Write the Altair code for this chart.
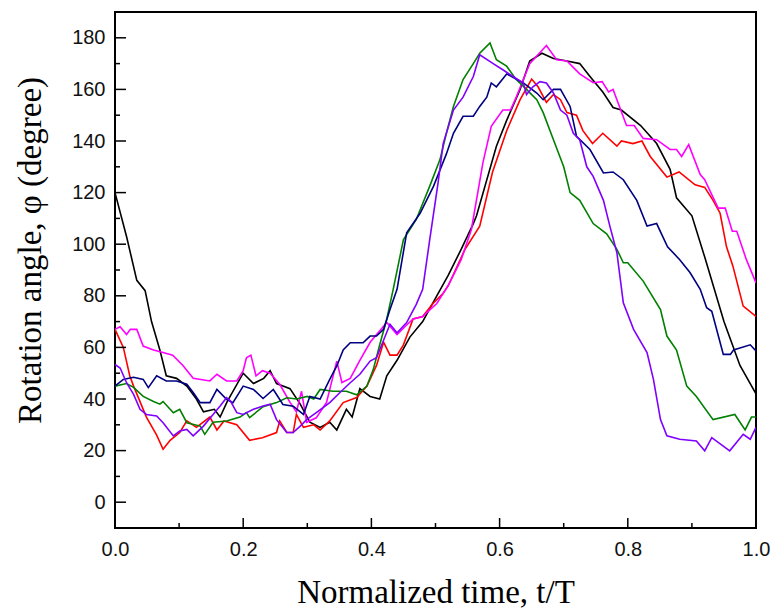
import altair as alt
import pandas as pd

series_names = ["black", "red", "magenta", "green", "navy", "purple"]
series_colors = ["#000000", "#ff0000", "#ff00ff", "#008000", "#000080", "#8000ff"]

t_black = [0, 0.018, 0.034, 0.047, 0.057, 0.07, 0.08, 0.096, 0.112, 0.127, 0.138, 0.155, 0.164, 0.175, 0.2, 0.216, 0.232, 0.242, 0.252, 0.273, 0.289, 0.304, 0.32, 0.335, 0.346, 0.361, 0.37, 0.382, 0.398, 0.413, 0.424, 0.44, 0.46, 0.48, 0.502, 0.52, 0.54, 0.559, 0.564, 0.595, 0.611, 0.632, 0.647, 0.666, 0.684, 0.705, 0.725, 0.741, 0.761, 0.777, 0.79, 0.82, 0.845, 0.866, 0.876, 0.90, 0.92, 0.95, 0.975, 1.0]
v_black = [120, 103, 86, 82, 70, 59, 49, 48, 45, 40, 35, 36, 33, 39, 50, 46, 48, 51, 46, 44, 38, 31, 29, 31, 28, 36, 33, 44, 41, 40, 49, 55, 64, 70, 80, 88, 98, 108, 111, 138, 148, 160, 171, 174, 172, 171, 170, 165, 159, 153, 152, 146, 139, 129, 118, 111, 95, 70, 53, 42]

t_red = [0, 0.013, 0.023, 0.029, 0.049, 0.065, 0.075, 0.086, 0.101, 0.112, 0.127, 0.148, 0.159, 0.17, 0.19, 0.21, 0.23, 0.252, 0.257, 0.268, 0.278, 0.283, 0.294, 0.31, 0.32, 0.335, 0.356, 0.377, 0.393, 0.408, 0.419, 0.429, 0.44, 0.45, 0.465, 0.48, 0.496, 0.512, 0.52, 0.546, 0.569, 0.589, 0.611, 0.632, 0.65, 0.66, 0.673, 0.684, 0.695, 0.705, 0.72, 0.73, 0.745, 0.761, 0.783, 0.79, 0.808, 0.822, 0.835, 0.861, 0.88, 0.905, 0.92, 0.933, 0.944, 0.954, 0.964, 0.98, 0.985, 1.0]
v_red = [67, 60, 49, 45, 33, 26, 20.5, 24, 27, 31.5, 29, 33, 28, 31.5, 30, 24, 25, 27, 31.5, 27, 27, 34, 29, 30, 28, 31.5, 38.6, 40.6, 45, 53, 62, 57, 57, 61, 71, 72, 77, 81, 84, 98, 107, 128, 144, 156, 164, 161, 155, 158, 156, 151, 150, 144, 139, 143, 138, 140, 139, 140, 134, 126, 128, 123, 122, 117, 112, 99, 91.5, 76, 75, 72]

t_magenta = [0, 0.008, 0.018, 0.024, 0.034, 0.044, 0.06, 0.075, 0.09, 0.106, 0.122, 0.148, 0.159, 0.174, 0.19, 0.2, 0.205, 0.212, 0.22, 0.23, 0.242, 0.257, 0.273, 0.283, 0.291, 0.299, 0.314, 0.33, 0.346, 0.354, 0.367, 0.382, 0.398, 0.424, 0.44, 0.455, 0.465, 0.48, 0.502, 0.52, 0.54, 0.556, 0.574, 0.587, 0.605, 0.617, 0.626, 0.647, 0.673, 0.689, 0.705, 0.725, 0.746, 0.76, 0.77, 0.777, 0.798, 0.81, 0.824, 0.845, 0.866, 0.876, 0.884, 0.895, 0.913, 0.92, 0.941, 0.952, 0.963, 0.97, 0.985, 1.0]
v_magenta = [67, 68, 65, 67, 67, 60.5, 59, 58, 57, 53, 48, 47, 49.6, 47, 47, 51, 56, 57, 49, 51, 50, 45.7, 38.7, 35, 43, 31, 32.7, 38.7, 54.7, 46.4, 48, 55, 62, 69.7, 65, 68.7, 71, 72, 77, 84, 94, 105.7, 131.6, 145.7, 152, 152, 157, 170, 177, 171.5, 171, 166, 162.6, 163, 159, 160, 146, 146, 141, 140.5, 136.7, 136.7, 134, 138.6, 127, 125, 114, 114, 105, 105, 94, 85]

t_green = [0, 0.018, 0.029, 0.044, 0.06, 0.07, 0.075, 0.091, 0.101, 0.112, 0.133, 0.14, 0.153, 0.174, 0.195, 0.205, 0.21, 0.231, 0.252, 0.268, 0.283, 0.3, 0.31, 0.32, 0.34, 0.361, 0.377, 0.393, 0.403, 0.413, 0.424, 0.434, 0.45, 0.47, 0.491, 0.507, 0.517, 0.528, 0.543, 0.559, 0.569, 0.585, 0.595, 0.611, 0.626, 0.642, 0.658, 0.668, 0.684, 0.7, 0.71, 0.725, 0.746, 0.767, 0.783, 0.793, 0.8, 0.824, 0.851, 0.861, 0.876, 0.892, 0.907, 0.933, 0.967, 0.983, 0.993, 1.0]
v_green = [45, 46, 44.5, 41, 39, 38, 39, 34.7, 36, 30.8, 29.5, 26.3, 31, 31.5, 33, 34.7, 32.8, 37, 38.6, 40.5, 40, 41, 40, 43.7, 43, 43, 41.6, 45, 51.5, 61, 71, 82.5, 101.8, 109.6, 122.5, 132.8, 143, 153.4, 163.8, 170, 174, 178, 171.5, 169, 163.8, 160, 156, 151, 140.5, 130, 120, 117, 108, 104, 98, 92.8, 92.8, 85.7, 74.7, 64.4, 59, 45, 41, 32, 34, 28, 33, 33]

t_navy = [0, 0.013, 0.029, 0.044, 0.052, 0.065, 0.08, 0.096, 0.112, 0.122, 0.133, 0.148, 0.159, 0.174, 0.184, 0.2, 0.216, 0.231, 0.247, 0.262, 0.278, 0.294, 0.304, 0.32, 0.335, 0.346, 0.356, 0.367, 0.387, 0.398, 0.408, 0.419, 0.429, 0.44, 0.455, 0.476, 0.497, 0.517, 0.528, 0.543, 0.559, 0.569, 0.58, 0.587, 0.595, 0.611, 0.637, 0.658, 0.668, 0.684, 0.695, 0.71, 0.72, 0.741, 0.762, 0.777, 0.793, 0.814, 0.83, 0.845, 0.862, 0.881, 0.897, 0.913, 0.923, 0.931, 0.949, 0.96, 0.965, 0.991, 1.0]
v_navy = [45, 47.6, 48.4, 47.6, 44.4, 49, 47, 47, 45.7, 42.5, 38.6, 38.6, 43.7, 39.9, 38.6, 45, 43.7, 40.2, 43.7, 37.9, 37.2, 34, 41, 40, 47.6, 52.8, 59, 61.8, 61.8, 64.4, 64.4, 67, 74.7, 82.5, 104.4, 112, 122.5, 135, 143, 149.6, 149.6, 153.4, 157, 162.5, 161, 166, 162.5, 158.6, 156, 160, 160, 153.4, 141.8, 136.7, 127.6, 128, 125, 117, 107, 108, 99, 94, 89, 82.5, 75.4, 74, 57.3, 57.3, 59, 61, 58.6]

t_purple = [0, 0.008, 0.018, 0.029, 0.039, 0.049, 0.065, 0.075, 0.091, 0.101, 0.112, 0.122, 0.138, 0.153, 0.164, 0.174, 0.18, 0.19, 0.2, 0.216, 0.231, 0.242, 0.252, 0.268, 0.278, 0.289, 0.299, 0.314, 0.335, 0.351, 0.367, 0.382, 0.398, 0.408, 0.429, 0.44, 0.455, 0.47, 0.48, 0.491, 0.504, 0.512, 0.528, 0.543, 0.559, 0.569, 0.59, 0.605, 0.621, 0.637, 0.642, 0.652, 0.663, 0.673, 0.684, 0.695, 0.705, 0.715, 0.725, 0.736, 0.746, 0.762, 0.772, 0.783, 0.793, 0.809, 0.83, 0.84, 0.851, 0.861, 0.881, 0.907, 0.92, 0.931, 0.959, 0.98, 0.991, 1.0]
v_purple = [53.4, 52, 46.3, 41.8, 36, 34, 33.4, 30.8, 25.7, 27.6, 28.2, 25.7, 29.5, 34, 37.3, 40.5, 39.3, 34.7, 34, 36, 37.3, 38, 32, 27, 27, 29.5, 32, 34.7, 38.6, 42.5, 46.3, 49.6, 54.7, 56, 69, 65.7, 69.6, 76.7, 82.5, 101.8, 123.8, 139, 152, 157, 165, 173.4, 170, 167.6, 165, 162.5, 158, 161, 163, 162.5, 158.6, 152, 150, 143, 140.5, 130, 126.3, 117, 107, 96.7, 77.3, 67, 58, 47.6, 32, 25.7, 24.4, 23.7, 19.9, 25, 19.9, 26.3, 24.4, 29]

x_major = [0.0, 0.2, 0.4, 0.6, 0.8, 1.0]
x_minor = [0.1, 0.3, 0.5, 0.7, 0.9]
y_major = [0, 20, 40, 60, 80, 100, 120, 140, 160, 180]
y_minor = [10, 30, 50, 70, 90, 110, 130, 150, 170]

all_t = [t_black, t_red, t_magenta, t_green, t_navy, t_purple]
all_v = [v_black, v_red, v_magenta, v_green, v_navy, v_purple]

rows = []
for name, ts, vs in zip(series_names, all_t, all_v):
    for t, v in zip(ts, vs):
        rows.append({"series": name, "t": t, "v": v})
df = pd.DataFrame(rows)

W, H = 641, 516
xscale = alt.Scale(domain=[0, 1], nice=False, zero=False)
yscale = alt.Scale(domain=[-10, 190], nice=False, zero=False)

x_axis = alt.Axis(values=x_major, format=".1f", title="Normalized time, t/T",
                  labelPadding=11, labelFlush=False, labelOverlap=False,
                  titleY=74, titleBaseline="alphabetic")
y_axis = alt.Axis(values=y_major, format="d", title="Rotation angle, φ (degree)",
                  labelPadding=10, labelFlush=False, labelOverlap=False,
                  titleX=-75, titleY=238, titleBaseline="alphabetic", titleAngle=270)

lines = alt.Chart(df).mark_line(strokeWidth=1.6, clip=True).encode(
    x=alt.X("t:Q", scale=xscale, axis=x_axis),
    y=alt.Y("v:Q", scale=yscale, axis=y_axis),
    color=alt.Color("series:N", scale=alt.Scale(domain=series_names, range=series_colors), legend=None),
    detail="series:N",
)

def xticks(vals, length):
    return alt.Chart(pd.DataFrame({"t": vals})).mark_rule(color="black", strokeWidth=1.5).encode(
        x=alt.X("t:Q", scale=xscale, axis=x_axis),
        y=alt.value(H), y2=alt.value(H - length))

def yticks(vals, length):
    return alt.Chart(pd.DataFrame({"v": vals})).mark_rule(color="black", strokeWidth=1.5).encode(
        y=alt.Y("v:Q", scale=yscale, axis=y_axis),
        x=alt.value(0), x2=alt.value(length))

chart = alt.layer(
    lines,
    xticks(x_major, 10), xticks(x_minor, 5),
    yticks(y_major, 11), yticks(y_minor, 5),
).properties(
    width=W, height=H,
    autosize=alt.AutoSizeParams(type="none"),
    padding={"left": 115, "top": 12, "right": 16, "bottom": 81},
    background="white",
).configure_view(
    stroke="black", strokeWidth=2
).configure_axis(
    domain=False, ticks=False, tickSize=0, grid=False,
    labelFont="Liberation Sans", labelFontSize=20, labelColor="#111111",
    titleFont="Liberation Serif", titleFontSize=33, titleFontWeight="normal", titleColor="black",
)

chart.save("out.html", embed_options={"renderer": "svg", "actions": False})
